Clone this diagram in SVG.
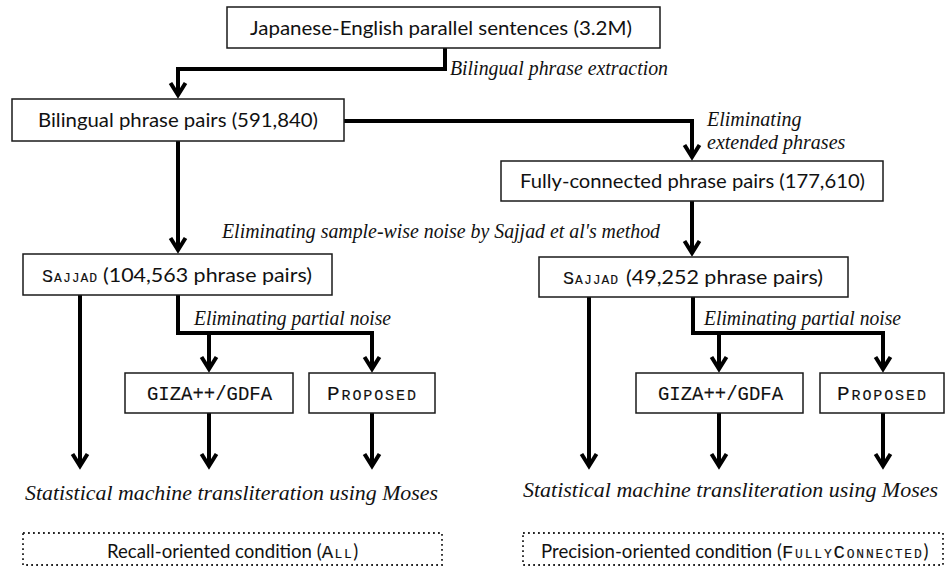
<svg xmlns="http://www.w3.org/2000/svg" width="945" height="567" viewBox="0 0 945 567">
<style>
.box{fill:#fff;stroke:#1a1a1a;stroke-width:1.5}
.dot{fill:none;stroke:#222;stroke-width:1.8;stroke-dasharray:1.8 3.2}
.sans{font-family:Lato,"Open Sans","Liberation Sans",sans-serif;font-size:20px;fill:#111}
.sans.small{font-size:18.6px}
.m{font-family:"Liberation Mono","DejaVu Sans Mono",monospace;fill:#111;stroke:#111;stroke-width:0.12}
.sc{font-variant:small-caps}
.lab{font-family:"Liberation Serif","Times New Roman",serif;font-style:italic;font-size:20px;fill:#111}
.con{fill:none;stroke:#000;stroke-width:4;stroke-linejoin:miter}
</style>
<defs>
<marker id="ah" markerUnits="userSpaceOnUse" orient="auto" markerWidth="30" markerHeight="30" refX="0" refY="0" viewBox="-20 -15 30 30" overflow="visible">
<path d="M-12,-7.5 L0,0 L-12,7.5" fill="none" stroke="#000" stroke-width="4" stroke-linejoin="miter"/>
</marker>
</defs>

<g id="connectors">
<path class="con" d="M445,48 V69 H178 V95" marker-end="url(#ah)"/>
<path class="con" d="M344,121 H692 V157" marker-end="url(#ah)"/>
<path class="con" d="M178,141 V250" marker-end="url(#ah)"/>
<path class="con" d="M692,201 V253" marker-end="url(#ah)"/>
<path class="con" d="M80,295 V466" marker-end="url(#ah)"/>
<path class="con" d="M178,295 V333 H372 V369" marker-end="url(#ah)"/>
<path class="con" d="M209,333 V369" marker-end="url(#ah)"/>
<path class="con" d="M209,413 V466" marker-end="url(#ah)"/>
<path class="con" d="M372,413 V466" marker-end="url(#ah)"/>
<path class="con" d="M589,297 V466" marker-end="url(#ah)"/>
<path class="con" d="M693,297 V333 H883 V369" marker-end="url(#ah)"/>
<path class="con" d="M719,333 V369" marker-end="url(#ah)"/>
<path class="con" d="M719,413 V466" marker-end="url(#ah)"/>
<path class="con" d="M883,413 V466" marker-end="url(#ah)"/>
</g>

<g id="labels">
<text class="lab" x="450" y="75" textLength="218" lengthAdjust="spacingAndGlyphs">Bilingual phrase extraction</text>
<text class="lab" x="707" y="126">Eliminating</text>
<text class="lab" x="707" y="149">extended phrases</text>
<text class="lab" x="222" y="238" textLength="438" lengthAdjust="spacingAndGlyphs">Eliminating sample-wise noise by Sajjad et al's method</text>
<text class="lab" x="194" y="325" textLength="197" lengthAdjust="spacingAndGlyphs">Eliminating partial noise</text>
<text class="lab" x="704" y="325" textLength="197" lengthAdjust="spacingAndGlyphs">Eliminating partial noise</text>
<text class="lab" x="25" y="500" textLength="413" lengthAdjust="spacingAndGlyphs">Statistical machine transliteration using Moses</text>
<text class="lab" x="523" y="497" textLength="415" lengthAdjust="spacingAndGlyphs">Statistical machine transliteration using Moses</text>
</g>

<g id="n-parallel">
<rect class="box" x="227" y="7" width="433" height="41"/>
<text class="sans" x="250" y="35" textLength="382" lengthAdjust="spacingAndGlyphs">Japanese-English parallel sentences (3.2M)</text>
</g>

<g id="n-bilingual">
<rect class="box" x="12" y="99" width="332" height="42"/>
<text class="sans" x="38" y="127" textLength="280" lengthAdjust="spacingAndGlyphs">Bilingual phrase pairs (591,840)</text>
</g>

<g id="n-fully">
<rect class="box" x="501" y="161" width="382" height="40"/>
<text class="sans" x="520" y="188" textLength="345" lengthAdjust="spacingAndGlyphs">Fully-connected phrase pairs (177,610)</text>
</g>

<g id="n-sajjad-all">
<rect class="box" x="23" y="254" width="309" height="41"/>
<text class="sans" y="282"><tspan class="m sc" x="42" font-size="18.5" letter-spacing="1">Sajjad</tspan><tspan x="103" textLength="209" lengthAdjust="spacingAndGlyphs">(104,563 phrase pairs)</tspan></text>
</g>

<g id="n-sajjad-fc">
<rect class="box" x="539" y="257" width="309" height="40"/>
<text class="sans" y="284"><tspan class="m sc" x="563" font-size="18.5" letter-spacing="1">Sajjad</tspan><tspan x="626" textLength="197" lengthAdjust="spacingAndGlyphs">(49,252 phrase pairs)</tspan></text>
</g>

<g id="n-giza-all">
<rect class="box" x="125" y="373" width="168" height="40"/>
<text class="m" x="147" y="400" font-size="20.5" textLength="125" lengthAdjust="spacingAndGlyphs">GIZA++/GDFA</text>
</g>

<g id="n-proposed-all">
<rect class="box" x="309" y="373" width="126" height="40"/>
<text class="m sc" x="327" y="400" font-size="21" letter-spacing="1.9">Proposed</text>
</g>

<g id="n-giza-fc">
<rect class="box" x="636" y="373" width="167" height="40"/>
<text class="m" x="658" y="400" font-size="20.5" textLength="125" lengthAdjust="spacingAndGlyphs">GIZA++/GDFA</text>
</g>

<g id="n-proposed-fc">
<rect class="box" x="820" y="373" width="124" height="40"/>
<text class="m sc" x="837" y="400" font-size="21" letter-spacing="1.9">Proposed</text>
</g>

<g id="n-recall">
<rect class="dot" x="23" y="533" width="419" height="32"/>
<text class="sans small" x="107" y="558">Recall-oriented condition (<tspan class="m sc" font-size="19" letter-spacing="1.5">All</tspan>)</text>
</g>

<g id="n-precision">
<rect class="dot" x="523" y="533" width="420" height="32"/>
<text class="sans small" x="541" y="558">Precision-oriented condition (<tspan class="m sc" font-size="19" letter-spacing="1.8">FullyConnected</tspan>)</text>
</g>
</svg>
